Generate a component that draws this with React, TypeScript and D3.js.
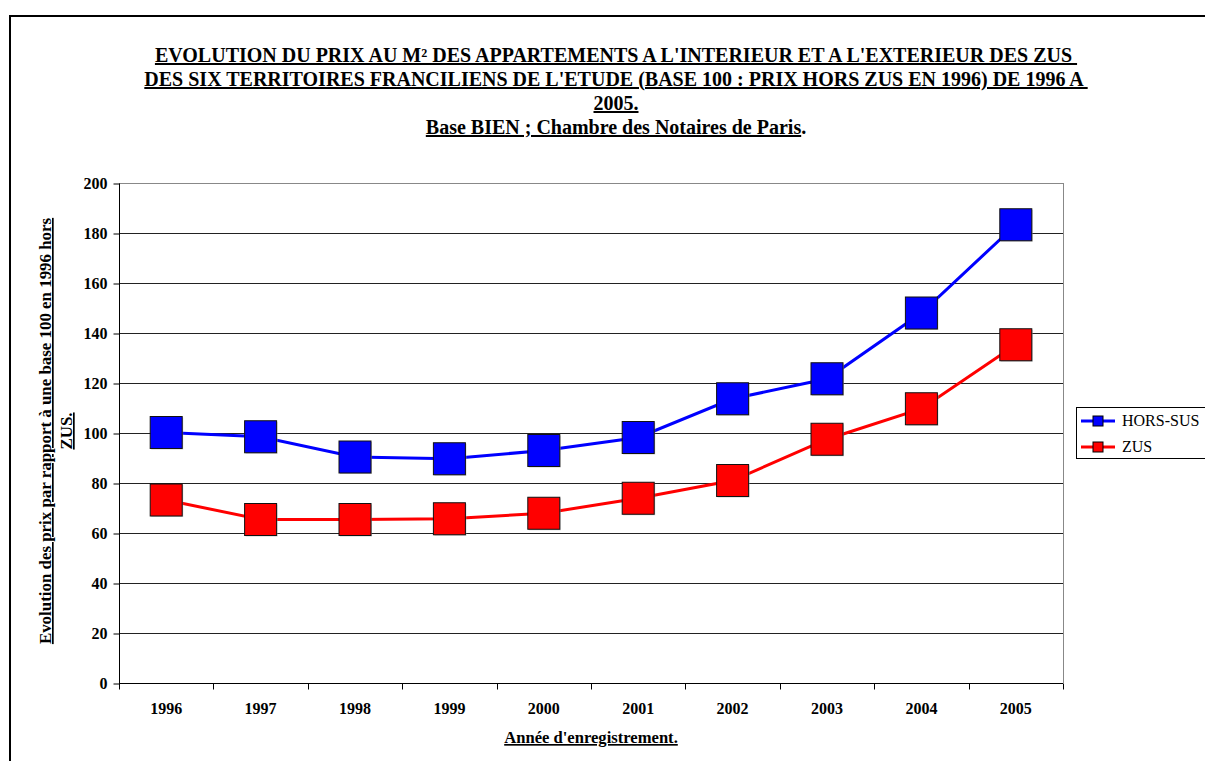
import React, { useEffect, useRef } from 'react';
import * as d3 from 'd3';

const years = ['1996', '1997', '1998', '1999', '2000', '2001', '2002', '2003', '2004', '2005'];
const horsSus = [100.2, 98.5, 90.4, 89.7, 93.0, 98.2, 113.7, 121.7, 148.0, 183.3];
const zus = [73.2, 65.4, 65.4, 65.7, 67.9, 73.9, 81.0, 97.5, 109.7, 135.3];
const yTicks = [0, 20, 40, 60, 80, 100, 120, 140, 160, 180, 200];
const titleLines = [
  "EVOLUTION DU PRIX AU M² DES APPARTEMENTS A L'INTERIEUR ET A L'EXTERIEUR DES ZUS ",
  "DES SIX TERRITOIRES FRANCILIENS DE L'ETUDE (BASE 100 : PRIX HORS ZUS EN 1996) DE 1996 A ",
  "2005.",
];

const FONT = "'Liberation Serif', 'Times New Roman', serif";

const App: React.FC = () => {
  const svgRef = useRef<SVGSVGElement>(null);

  useEffect(() => {
    if (!svgRef.current) return;
    const svg = d3.select(svgRef.current);
    svg.selectAll('*').remove();

    const left = 119, right = 1063, top = 183, bottom = 683;

    const x = d3.scaleBand<string>().domain(years).range([left, right]).paddingInner(0).paddingOuter(0);
    const y = d3.scaleLinear().domain([0, 200]).range([bottom, top]);

    // outer frame
    svg.append('path')
      .attr('d', 'M10,770 L10,16 L1215,16')
      .attr('fill', 'none')
      .attr('stroke', '#000')
      .attr('stroke-width', 2);

    // title
    const title = svg.append('g')
      .style('font-family', FONT)
      .style('font-weight', 'bold')
      .style('font-size', '20px')
      .attr('text-anchor', 'middle');
    titleLines.forEach((t, i) => {
      title.append('text')
        .attr('x', 616)
        .attr('y', 62 + i * 24)
        .style('white-space', 'pre')
        .style('text-decoration', 'underline')
        .text(t);
    });
    const last = title.append('text').attr('x', 616).attr('y', 62 + 3 * 24);
    last.append('tspan').style('text-decoration', 'underline').text('Base BIEN ; Chambre des Notaires de Paris');
    last.append('tspan').text('.');

    // gridlines
    svg.append('g')
      .selectAll('line')
      .data(yTicks.filter(d => d > 0))
      .join('line')
      .attr('x1', left)
      .attr('x2', right)
      .attr('y1', d => y(d) + 0.5)
      .attr('y2', d => y(d) + 0.5)
      .attr('stroke', d => (d === 200 ? '#888' : '#222'))
      .attr('stroke-width', 1);

    // right border
    svg.append('line')
      .attr('x1', right + 0.5).attr('x2', right + 0.5)
      .attr('y1', top).attr('y2', bottom)
      .attr('stroke', '#888');

    // y axis
    const yAxis = d3.axisLeft(y).tickValues(yTicks).tickSize(6).tickPadding(6);
    const ya = svg.append('g')
      .attr('transform', `translate(${left + 0.5},0.5)`)
      .call(yAxis);
    ya.selectAll('path,line').attr('stroke', '#000');
    ya.selectAll('text')
      .style('font-family', FONT)
      .style('font-weight', 'bold')
      .style('font-size', '16px')
      .attr('fill', '#000');
    ya.select('.domain').attr('d', `M0,${top}V${bottom}`);

    // x axis
    const xa = svg.append('g').attr('transform', `translate(0,${bottom + 0.5})`);
    xa.append('line').attr('x1', left).attr('x2', right).attr('stroke', '#000');
    const bounds = d3.range(years.length + 1).map(i => left + i * x.bandwidth());
    xa.selectAll('line.tk')
      .data(bounds)
      .join('line')
      .attr('class', 'tk')
      .attr('x1', d => Math.round(d) + 0.5)
      .attr('x2', d => Math.round(d) + 0.5)
      .attr('y1', 0)
      .attr('y2', 6)
      .attr('stroke', '#000');
    xa.selectAll('text')
      .data(years)
      .join('text')
      .attr('x', d => (x(d) ?? 0) + x.bandwidth() / 2)
      .attr('y', 30)
      .attr('text-anchor', 'middle')
      .style('font-family', FONT)
      .style('font-weight', 'bold')
      .style('font-size', '16px')
      .text(d => d);

    // axis titles
    svg.append('text')
      .attr('x', (left + right) / 2)
      .attr('y', 743)
      .attr('text-anchor', 'middle')
      .style('font-family', FONT)
      .style('font-weight', 'bold')
      .style('font-size', '16.6px')
      .style('text-decoration', 'underline')
      .text("Année d'enregistrement.");

    const yt = svg.append('g')
      .attr('transform', 'translate(0,431) rotate(-90)')
      .style('font-family', FONT)
      .style('font-weight', 'bold')
      .style('font-size', '16.9px')
      .style('text-decoration', 'underline')
      .attr('text-anchor', 'middle');
    yt.append('text').attr('x', 0).attr('y', 51).text('Evolution des prix par rapport à une base 100 en 1996 hors');
    yt.append('text').attr('x', 0).attr('y', 72).text('ZUS.');

    // series
    const series = [
      { name: 'HORS-SUS', values: horsSus, color: '#0000FF' },
      { name: 'ZUS', values: zus, color: '#FF0000' },
    ];
    const line = d3.line<number>()
      .x((_, i) => (x(years[i]) ?? 0) + x.bandwidth() / 2)
      .y(d => y(d));

    const ms = 32;
    [...series].reverse().forEach(s => {
      svg.append('path')
        .datum(s.values)
        .attr('d', line)
        .attr('fill', 'none')
        .attr('stroke', s.color)
        .attr('stroke-width', 3);
    });
    [...series].reverse().forEach(s => {
      const g = svg.append('g');
      g.selectAll('rect.sh')
        .data(s.values)
        .join('rect')
        .attr('class', 'sh')
        .attr('x', (_, i) => (x(years[i]) ?? 0) + x.bandwidth() / 2 - ms / 2 + 1)
        .attr('y', d => y(d) - ms / 2 + 1)
        .attr('width', ms)
        .attr('height', ms)
        .attr('fill', '#aaa')
        .attr('opacity', 0.6);
      g.selectAll('rect.mk')
        .data(s.values)
        .join('rect')
        .attr('class', 'mk')
        .attr('x', (_, i) => (x(years[i]) ?? 0) + x.bandwidth() / 2 - ms / 2)
        .attr('y', d => y(d) - ms / 2)
        .attr('width', ms)
        .attr('height', ms)
        .attr('fill', s.color)
        .attr('stroke', '#111')
        .attr('stroke-width', 1);
    });

    // legend
    const lg = svg.append('g');
    lg.append('rect')
      .attr('x', 1076.5).attr('y', 407.5)
      .attr('width', 140).attr('height', 51)
      .attr('fill', '#fff')
      .attr('stroke', '#000');
    series.forEach((s, i) => {
      const cy = 421 + i * 26;
      lg.append('line')
        .attr('x1', 1081).attr('x2', 1115)
        .attr('y1', cy).attr('y2', cy)
        .attr('stroke', s.color)
        .attr('stroke-width', 3);
      lg.append('rect')
        .attr('x', 1093).attr('y', cy - 5)
        .attr('width', 10).attr('height', 10)
        .attr('fill', s.color)
        .attr('stroke', '#000');
      lg.append('text')
        .attr('x', 1122).attr('y', cy + 5)
        .style('font-family', FONT)
        .style('font-size', '16px')
        .text(s.name);
    });
  }, []);

  return (
    <svg
      ref={svgRef}
      width={1205}
      height={761}
      viewBox="0 0 1205 761"
      style={{ position: 'absolute', left: 0, top: 0, background: '#fff' }}
    />
  );
};

export default App;
